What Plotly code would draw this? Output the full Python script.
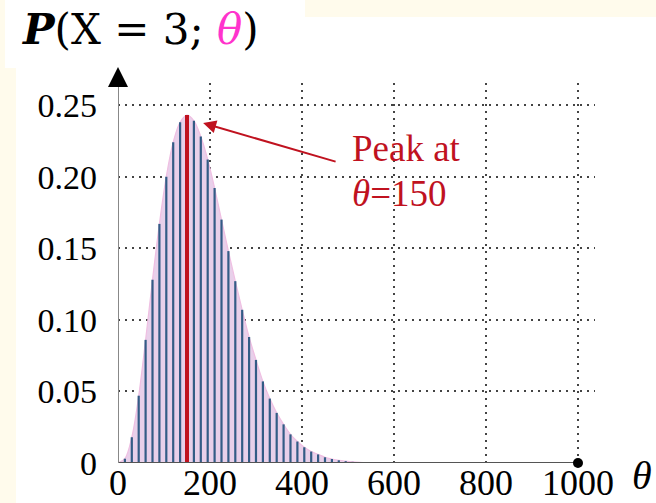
import plotly.graph_objects as go

# ---- data ----
theta = list(range(0, 601, 15))
likelihood = [0, 0.003, 0.018, 0.047, 0.086, 0.128, 0.167, 0.200, 0.224, 0.238,
              0.243, 0.239, 0.228, 0.212, 0.192, 0.170, 0.148, 0.127, 0.107, 0.088,
              0.072, 0.057, 0.045, 0.035, 0.027, 0.020, 0.015, 0.011, 0.008, 0.006,
              0.004, 0.0028, 0.0019, 0.0013, 0.0008, 0.0005, 0.0003, 0.0002, 0.0001,
              0.0001, 0]
peak_theta = 150
x_ticks = [0, 200, 400, 600, 800, 1000]
x_ticktext = ["0", "200", "400", "600", "800", "1000"]
y_ticks = [0, 0.05, 0.10, 0.15, 0.20, 0.25]
y_ticktext = ["0", "0.05", "0.10", "0.15", "0.20", "0.25"]
x_end = 1000

peak_value = likelihood[theta.index(peak_theta)]

W, H = 656, 503
L, R, T, B = 118, 61, 83, 40
pw, ph = W - L - R, H - T - B


def px(xp):
    return (xp - L) / pw


def py(yp):
    return (H - B - yp) / ph


serif = "Liberation Serif"
red = "#c0121f"

# stems built from the data arrays
stem_x, stem_y = [], []
for t, v in zip(theta, likelihood):
    stem_x += [t, t, None]
    stem_y += [0, v, None]

fig = go.Figure()

fig.add_trace(go.Scatter(x=theta, y=likelihood, mode="lines",
                         line=dict(color="#efbfe2", width=1.2, shape="spline"),
                         fill="tozeroy", fillcolor="#e8d0ea", hoverinfo="skip",
                         showlegend=False))
fig.add_trace(go.Scatter(x=stem_x, y=stem_y, mode="lines",
                         line=dict(color="#335c86", width=2.2), showlegend=False))
fig.add_trace(go.Scatter(x=[peak_theta, peak_theta], y=[0, peak_value], mode="lines",
                         line=dict(color=red, width=4), showlegend=False))
# x-axis line with end dot
fig.add_trace(go.Scatter(x=[0, x_end], y=[0, 0], mode="lines",
                         line=dict(color="#555555", width=2), showlegend=False))
fig.add_trace(go.Scatter(x=[x_end], y=[0], mode="markers",
                         marker=dict(color="black", size=10), showlegend=False,
                         cliponaxis=False))
# y-axis line
fig.add_trace(go.Scatter(x=[0, 0], y=[0, 0.2654], mode="lines",
                         line=dict(color="#888888", width=2), showlegend=False))

shapes = [
    dict(type="rect", xref="paper", yref="paper", x0=px(16), x1=px(W + 5),
         y0=py(H + 5), y1=py(17), fillcolor="white", line=dict(width=0), layer="below"),
    dict(type="rect", xref="paper", yref="paper", x0=px(5), x1=px(305),
         y0=py(68), y1=py(-5), fillcolor="white", line=dict(width=0), layer="below"),
]

annotations = [
    dict(xref="paper", yref="paper", x=px(20), y=py(30), xanchor="left", yanchor="middle",
         showarrow=False,
         text="<b><i>P</i></b>(X = 3; <span style='color:#ff33cc'><i>θ</i></span>)",
         font=dict(family="DejaVu Serif", size=42, color="black")),
    dict(xref="x", yref="y", x=504, y=0.2200, xanchor="left", yanchor="middle",
         showarrow=False, text="Peak at", font=dict(family=serif, size=37, color=red)),
    dict(xref="x", yref="y", x=504, y=0.1885, xanchor="left", yanchor="middle",
         showarrow=False, text="<i>θ</i>=150", font=dict(family=serif, size=37, color=red)),
    dict(xref="x", yref="y", x=185, y=0.2374, ax=134, ay=39, text="", showarrow=True,
         arrowhead=2, arrowsize=1.3, arrowwidth=2, arrowcolor=red),
    # y-axis arrow head
    dict(xref="x", yref="paper", x=0, y=py(67), ax=0, ay=18, text="", showarrow=True,
         arrowhead=2, arrowsize=2, arrowwidth=2, arrowcolor="black"),
    dict(xref="paper", yref="paper", x=px(654), y=py(475), xanchor="right", yanchor="middle",
         showarrow=False, text="<i>θ</i>", font=dict(family=serif, size=40, color="black")),
]

fig.update_layout(
    width=W, height=H, margin=dict(l=L, r=R, t=T, b=B, pad=0),
    paper_bgcolor="#fffbec", plot_bgcolor="white",
    shapes=shapes, annotations=annotations,
    xaxis=dict(range=[0, 1037], tickvals=x_ticks, ticktext=x_ticktext, automargin=False,
               showgrid=True, gridcolor="#444444", gridwidth=1.5, griddash="2px,5px",
               zeroline=False, showline=False, ticks="", ticklabelstandoff=-5,
               tickfont=dict(family=serif, size=36, color="black")),
    yaxis=dict(range=[0, 0.2654], tickvals=y_ticks, ticktext=y_ticktext, automargin=False,
               showgrid=True, gridcolor="#444444", gridwidth=1.5, griddash="2px,5px",
               zeroline=False, showline=False, ticks="", ticklabelstandoff=20,
               tickfont=dict(family=serif, size=34, color="black")),
)

fig.write_html("out.html", post_script="document.body.style.margin='0';",
               config={"displayModeBar": False})
